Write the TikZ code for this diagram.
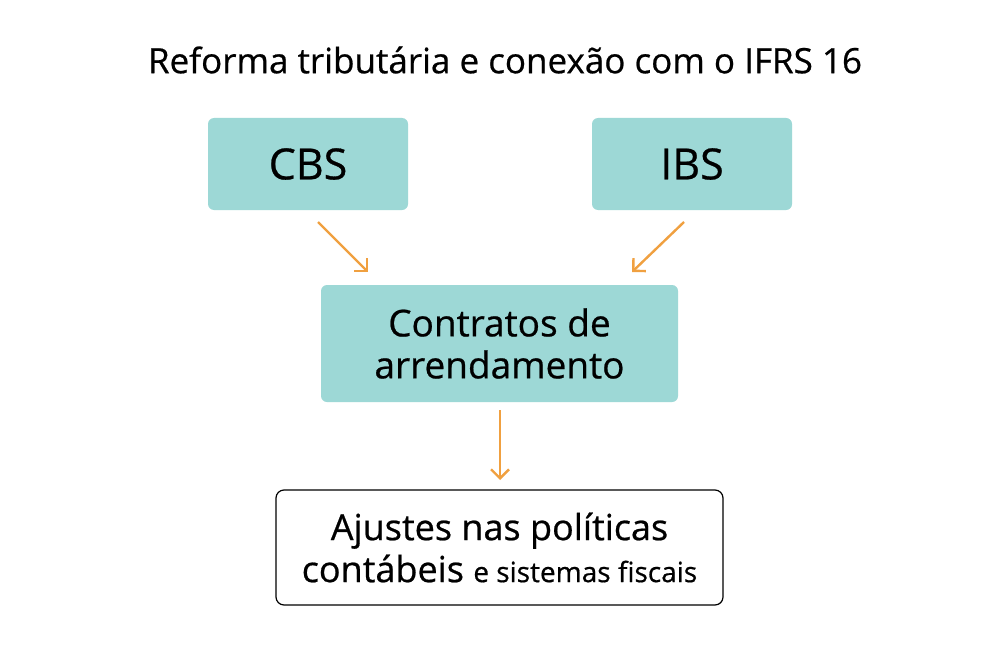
\documentclass[tikz,border=0pt]{standalone}
\usepackage{fontspec}
\setmainfont{Open Sans}[FakeBold=0.6,AutoFakeBold=0.6]
\usetikzlibrary{arrows.meta}
\definecolor{teal}{HTML}{9DD8D6}
\definecolor{org}{HTML}{F0A040}
\begin{document}
\begin{tikzpicture}[x=1pt,y=-1pt,
  box/.style={fill=teal,rounded corners=6pt,draw=none,align=center},
  arr/.style={draw=org,line width=2.4pt,-{Straight Barb[length=9pt,width=18pt]}}]
\useasboundingbox[fill=white] (0,0) rectangle (1000,650);
\node[font=\fontsize{35}{40}\selectfont] (t) at (505,60) {Reforma tributária e conexão com o IFRS 16};
\node[box,minimum width=200pt,minimum height=92pt,font=\fontsize{43}{48}\selectfont] (cbs) at (308,164) {CBS};
\node[box,minimum width=200pt,minimum height=92pt,font=\fontsize{43}{48}\selectfont] (ibs) at (692,164) {IBS};
\node[box,minimum width=357pt,minimum height=117pt,font=\fontsize{37}{42}\selectfont] (con) at (499.5,343.5) {Contratos de\\ arrendamento};
\node[draw=black,line width=1.2pt,rounded corners=8pt,fill=white,minimum width=447pt,minimum height=115pt,align=center,font=\fontsize{36}{42}\selectfont] (aj) at (499.5,547.5) {Ajustes nas políticas\\ contábeis {\fontsize{28}{32}\selectfont e sistemas fiscais}};
\coordinate (a1) at (318,222); \coordinate (b1) at (368,272);
\coordinate (a2) at (684,222); \coordinate (b2) at (632,272);
\coordinate (a3) at (500,410); \coordinate (b3) at (500,480);
\draw[arr] (a1) -- (b1);
\draw[arr] (a2) -- (b2);
\draw[arr] (a3) -- (b3);
\end{tikzpicture}
\end{document}
